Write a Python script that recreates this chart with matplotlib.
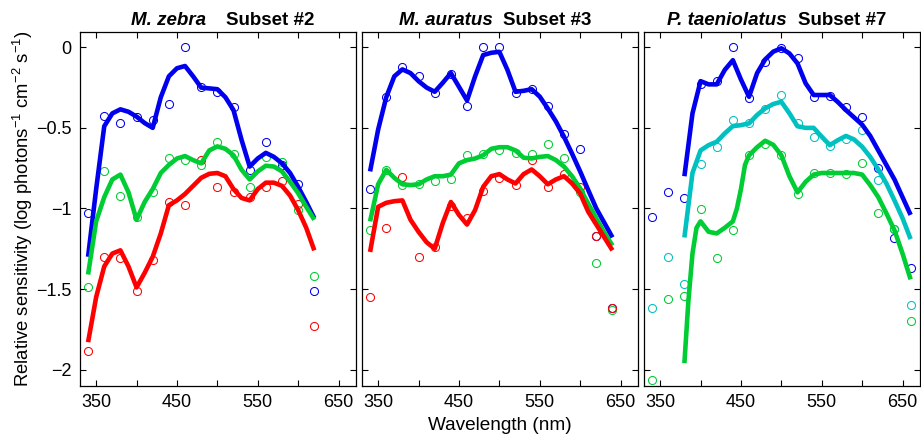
import matplotlib
matplotlib.use("Agg")
import matplotlib.pyplot as plt
import numpy as np

plt.rcParams['font.family'] = ['Liberation Sans', 'DejaVu Sans']
plt.rcParams['mathtext.default'] = 'regular'

# ---- measured points (open circles) ----
wl_a = np.arange(340, 621, 20)
zebra_blue = [-1.03, -0.425, -0.47, -0.43, -0.45, -0.35, 0.0, -0.245, -0.28, -0.37,
              -0.76, -0.59, -0.73, -0.85, -1.51]
zebra_green = [-1.49, -0.77, -0.92, -1.05, -0.90, -0.69, -0.70, -0.73, -0.59, -0.665,
               -0.87, -0.68, -0.71, -1.01, -1.42]
zebra_red = [-1.886, -1.30, -1.31, -1.51, -1.32, -0.96, -0.98, -0.70, -0.87, -0.90,
             -0.93, -0.87, -0.83, -0.97, -1.73]

wl_b = np.arange(340, 641, 20)
auratus_blue = [-0.88, -0.31, -0.124, -0.18, -0.286, -0.168, -0.365, 0.0, 0.0, -0.286,
                -0.26, -0.365, -0.54, -0.634, -1.17, -1.62]
auratus_green = [-1.135, -0.76, -0.855, -0.85, -0.83, -0.82, -0.67, -0.665, -0.64, -0.655,
                 -0.665, -0.60, -0.69, -0.90, -1.34, -1.63]
auratus_red = [-1.55, -1.12, -0.805, -1.30, -1.24, -0.985, -1.06, -0.89, -0.81, -0.855,
               -0.70, -0.87, -0.787, -0.87, -1.17, -1.62]

wl_c = np.arange(340, 661, 20)
taen_blue = [-1.05, -0.90, -0.934, -0.228, -0.207, 0.0, -0.317, -0.089, -0.006, -0.068,
             -0.307, -0.30, -0.373, -0.435, -0.75, -1.185, -1.37]
taen_cyan = [-1.62, -1.30, -1.47, -0.725, -0.62, -0.45, -0.468, -0.383, -0.296, -0.472,
             -0.555, -0.613, -0.57, -0.514, -0.824, -1.125, -1.60]
taen_green = [-2.066, -1.563, -1.545, -1.006, -1.31, -1.135, -0.67, -0.60, -0.67, -0.91,
              -0.78, -0.78, -0.785, -0.72, -1.03, -1.13, -1.70]

# ---- fitted curves ----
fit_a = np.arange(340, 621, 10)
zebra_blue_fit = [-1.30, -0.88, -0.49, -0.41, -0.385, -0.40, -0.43, -0.47, -0.50, -0.31,
                  -0.18, -0.13, -0.116, -0.18, -0.25, -0.255, -0.26, -0.31, -0.39, -0.575,
                  -0.74, -0.69, -0.655, -0.68, -0.72, -0.78, -0.866, -0.96, -1.06]
zebra_green_fit = [-1.41, -1.08, -0.93, -0.82, -0.79, -0.90, -1.07, -0.96, -0.88, -0.78,
                   -0.73, -0.69, -0.675, -0.70, -0.72, -0.64, -0.615, -0.63, -0.67, -0.76,
                   -0.82, -0.77, -0.735, -0.74, -0.77, -0.835, -0.905, -0.99, -1.07]
zebra_red_fit = [-1.83, -1.55, -1.36, -1.28, -1.26, -1.36, -1.49, -1.40, -1.30, -1.155,
                 -0.98, -0.95, -0.91, -0.86, -0.81, -0.785, -0.78, -0.80, -0.88, -0.935,
                 -0.95, -0.88, -0.84, -0.84, -0.86, -0.92, -1.01, -1.12, -1.26]

fit_b = np.arange(340, 641, 10)
auratus_blue_fit = [-0.77, -0.51, -0.31, -0.18, -0.137, -0.16, -0.21, -0.25, -0.276, -0.22,
                    -0.16, -0.245, -0.33, -0.18, -0.048, -0.034, -0.028, -0.14, -0.276, -0.27,
                    -0.26, -0.306, -0.38, -0.46, -0.555, -0.66, -0.77, -0.886, -1.0, -1.09,
                    -1.18]
auratus_green_fit = [-1.08, -0.85, -0.76, -0.81, -0.85, -0.855, -0.85, -0.82, -0.80, -0.80,
                     -0.79, -0.72, -0.70, -0.69, -0.67, -0.63, -0.62, -0.62, -0.64, -0.685,
                     -0.69, -0.68, -0.675, -0.70, -0.74, -0.80, -0.876, -0.97, -1.06, -1.15,
                     -1.23]
auratus_red_fit = [-1.27, -0.99, -0.965, -0.955, -0.95, -1.07, -1.145, -1.21, -1.25, -1.09,
                   -0.96, -1.04, -1.10, -1.01, -0.866, -0.80, -0.787, -0.82, -0.845, -0.787,
                   -0.758, -0.80, -0.85, -0.82, -0.80, -0.845, -0.907, -1.02, -1.10, -1.18,
                   -1.26]

fit_c = np.arange(380, 661, 10)
taen_blue_fit = [-0.80, -0.41, -0.21, -0.23, -0.23, -0.14, -0.08, -0.20, -0.307, -0.16,
                 -0.075, -0.027, -0.006, -0.038, -0.10, -0.223, -0.296, -0.296, -0.296, -0.34,
                 -0.39, -0.435, -0.48, -0.55, -0.64, -0.73, -0.82, -0.93, -1.04]
taen_cyan_fit = [-1.18, -0.78, -0.64, -0.607, -0.586, -0.534, -0.489, -0.483, -0.472, -0.42,
                 -0.379, -0.352, -0.338, -0.41, -0.49, -0.50, -0.50, -0.555, -0.607, -0.576,
                 -0.55, -0.572, -0.617, -0.68, -0.758, -0.845, -0.95, -1.06, -1.19]
fit_c_green = [380, 385, 390, 395, 400, 410, 420, 430, 440, 445, 450, 455,
               460, 470, 480, 490, 500, 510, 520, 530, 540, 550, 560, 570,
               580, 590, 600, 610, 620, 630, 640, 650, 660]
taen_green_fit = [-1.96, -1.57, -1.28, -1.12, -1.08, -1.145, -1.155, -1.12, -1.08, -1.0,
                  -0.88, -0.73, -0.67, -0.62, -0.58, -0.605, -0.67, -0.80, -0.90, -0.835,
                  -0.79, -0.78, -0.78, -0.78, -0.78, -0.78, -0.79, -0.855, -0.93, -1.03,
                  -1.135, -1.28, -1.44]

species = ["M. zebra", "M. auratus", "P. taeniolatus"]
subsets = ["Subset #2", "Subset #3", "Subset #7"]

BLUE, GREEN, RED, CYAN = "#0000ee", "#00cc33", "#ff0000", "#00c0c0"


def main():
    fig = plt.figure(figsize=(9.21, 4.36), dpi=100)
    W, H = 921.0, 436.0
    lefts = [80, 362, 644]
    bottom, top = 385.7, 32.0

    panels = [
        (wl_a, [(zebra_blue, BLUE), (zebra_green, GREEN), (zebra_red, RED)],
         [(fit_a, zebra_blue_fit, BLUE), (fit_a, zebra_green_fit, GREEN), (fit_a, zebra_red_fit, RED)]),
        (wl_b, [(auratus_blue, BLUE), (auratus_green, GREEN), (auratus_red, RED)],
         [(fit_b, auratus_blue_fit, BLUE), (fit_b, auratus_green_fit, GREEN), (fit_b, auratus_red_fit, RED)]),
        (wl_c, [(taen_blue, BLUE), (taen_cyan, CYAN), (taen_green, GREEN)],
         [(fit_c, taen_blue_fit, BLUE), (fit_c, taen_cyan_fit, CYAN), (fit_c_green, taen_green_fit, GREEN)]),
    ]
    # where the italic part ends / bold part begins (axes fraction)
    title_pos = [(0.457, 0.530), (0.476, 0.513), (0.519, 0.559)]

    axes = []
    for i, (wl, pts, fits) in enumerate(panels):
        ax = fig.add_axes([lefts[i] / W, (H - bottom) / H, 275.5 / W, (bottom - top) / H])
        for vals, c in pts:
            ax.plot(wl, vals, 'o', ms=5.8, mfc='none', mec=c, mew=0.75)
        for x, y, c in fits:
            ax.plot(x, y, '-', color=c, lw=3.3, solid_joinstyle='round', solid_capstyle='butt')
        ax.set_xlim(330, 671)
        ax.set_ylim(-2.1, 0.095)
        ax.set_xticks(np.arange(350, 651, 50))
        ax.set_xticklabels(["350", "", "450", "", "550", "", "650"])
        ax.set_yticks([-2, -1.5, -1, -0.5, 0])
        if i == 0:
            ax.set_yticklabels(["\u22122", "\u22121.5", "\u22121", "\u22120.5", "0"])
        else:
            ax.set_yticklabels([])
        ax.tick_params(direction='in', top=True, right=True, length=4, width=0.8,
                       labelsize=13, pad=6)
        for s in ax.spines.values():
            s.set_linewidth(0.9)
        xi, xb = title_pos[i]
        ax.text(xi, 1.02, species[i], transform=ax.transAxes, ha='right', va='baseline',
                fontsize=13.5, fontweight='bold', fontstyle='italic')
        ax.text(xb, 1.02, subsets[i], transform=ax.transAxes, ha='left', va='baseline',
                fontsize=13.5, fontweight='bold')
        axes.append(ax)

    axes[0].set_ylabel("Relative sensitivity (log photons$^{-1}$ cm$^{-2}$ s$^{-1}$)",
                       fontsize=13.3, labelpad=1)
    axes[1].set_xlabel("Wavelength (nm)", fontsize=13.7, labelpad=4)

    fig.savefig("out.png", dpi=100)


if __name__ == "__main__":
    main()
